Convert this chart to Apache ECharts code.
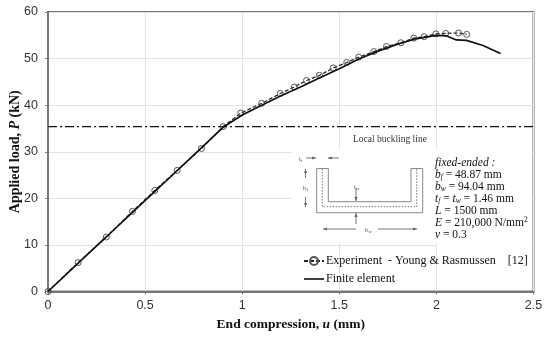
<!DOCTYPE html>
<html><head><meta charset="utf-8">
<style>html,body{margin:0;padding:0;background:#fff}#c{width:550px;height:337px}</style>
<script src="https://cdn.jsdelivr.net/npm/echarts@6/dist/echarts.min.js"></script>
</head><body><div id="c"></div>
<script>
const experimentU=[0,0.155,0.3,0.435,0.55,0.665,0.79,0.902,0.993,1.10,1.196,1.268,1.331,1.398,1.469,1.538,1.60,1.678,1.743,1.817,1.884,1.937,1.997,2.048,2.114,2.156];
const experimentP=[0,6.2,11.7,17.2,21.7,26,30.7,35.4,38.3,40.4,42.5,43.9,45.3,46.4,48,49.15,50.3,51.5,52.6,53.4,54.4,54.7,55.3,55.4,55.5,55.2];
const feU=[0,0.15,0.3,0.45,0.6,0.75,0.9,1.0,1.1,1.2,1.3,1.4,1.5,1.6,1.7,1.8,1.9,2.0,2.05,2.103,2.155,2.24,2.33];
const feP=[0,5.9,11.7,17.6,23.4,29.3,35.2,37.9,40,42,43.9,45.9,47.8,49.9,51.6,53.1,54.3,55,54.9,54,53.9,52.8,51.1];
const bucklingU=[0,2.5];
const bucklingP=[35.4,35.4];
const seriesNames=["Experiment  - Young & Rasmussen    [12]","Finite element"];
const xRange=[0,2.5], yRange=[0,60];
const zip=(a,b)=>a.map((v,i)=>[v,b[i]]);
const serif='"Liberation Serif"', sans='"Liberation Sans"';
const G='#777';
function ln(x1,y1,x2,y2,extra){return {type:'line',shape:{x1,y1,x2,y2},style:Object.assign({stroke:G,lineWidth:1},extra||{}),z:20};}
function tri(p){return {type:'polygon',shape:{points:p},style:{fill:'#666'},z:20};}
function hArrow(x1,x2,y){const d=x2>x1?1:-1;return [ln(x1,y,x2,y),tri([[x2,y],[x2-4*d,y-1.6],[x2-4*d,y+1.6]])];}
function vArrow(x,y1,y2){const d=y2>y1?1:-1;return [ln(x,y1,x,y2),tri([[x,y2],[x-1.6,y2-4*d],[x+1.6,y2-4*d]])];}
function small(x,y,base,sub){return {type:'text',x,y,z:21,style:{text:`{a|${base}}{s|${sub}}`,rich:{a:{fontFamily:serif,fontSize:7,fill:'#555'},s:{fontFamily:serif,fontSize:5,fill:'#555',padding:[3,0,0,0]}}}};}
const richBase={n:{fontFamily:serif,fontSize:11.5,fill:'#111'},i:{fontFamily:serif,fontStyle:'italic',fontSize:11.5,fill:'#111'},s:{fontFamily:serif,fontSize:7.5,fill:'#111',padding:[5,0,0,0]},si:{fontFamily:serif,fontStyle:'italic',fontSize:7.5,fill:'#111',padding:[5,0,0,0]},u:{fontFamily:serif,fontSize:7.5,fill:'#111',padding:[0,0,5,0]}};
function info(y,t){return {type:'text',x:435,y,z:21,style:{text:t,rich:richBase,verticalAlign:'middle'}};}
const graphic=[
 {type:'rect',shape:{x:292,y:149,width:145,height:94},style:{fill:'#fff'},z:10},
 {type:'rect',shape:{x:437,y:149,width:95,height:103},style:{fill:'#fff'},z:10},
 {type:'polyline',shape:{points:[[316.7,168.5],[316.7,212.7],[422.7,212.7],[422.7,168.5],[411,168.5],[411,201.7],[328.3,201.7],[328.3,168.5],[316.7,168.5]]},style:{stroke:'#888',fill:'none',lineWidth:1},z:20},
 {type:'polyline',shape:{points:[[322.3,169],[322.3,206.7],[416.7,206.7],[416.7,169]]},style:{stroke:'#777',fill:'none',lineWidth:1,lineDash:[1.5,1.5]},z:20},
 ...hArrow(306,316,158),...hArrow(339,328,158),
 ...vArrow(305.5,178,169),...vArrow(305.5,197,207),
 ...vArrow(356,188,201),...vArrow(356,224,213),
 ...hArrow(356,323,229),...hArrow(378,417,229),
 small(299,155,'t','f'),small(303,184,'b','f'),small(354,183,'t','w'),small(365,226,'b','w'),
 info(163,'{i|fixed-ended :}'),
 info(175,'{i|b}{si|f}{n| = 48.87 mm}'),
 info(187,'{i|b}{si|w}{n| = 94.04 mm}'),
 info(199,'{i|t}{si|f}{n| = }{i|t}{si|w}{n| = 1.46 mm}'),
 info(211,'{i|L}{n| = 1500 mm}'),
 info(223,'{i|E}{n| = 210,000 N/mm}{u|2}'),
 info(235,'{i|v}{n| = 0.3}'),
 {type:'text',x:353,y:134.5,z:21,style:{text:'Local buckling line',fontFamily:serif,fontSize:9.5,fill:'#333'}}
];
const nameRich={b:{fontFamily:serif,fontWeight:'bold',fontSize:13.5,color:'#111'},bi:{fontFamily:serif,fontWeight:'bold',fontStyle:'italic',fontSize:13.5,color:'#111'}};
const nameRichY={b:Object.assign({},nameRich.b,{fontSize:14}),bi:Object.assign({},nameRich.bi,{fontSize:14})};
const chart=echarts.init(document.getElementById('c'),null,{renderer:'canvas'});
chart.setOption({
 animation:false,backgroundColor:'#fff',
 grid:{left:48,right:16.5,top:12,bottom:45.5,show:true,borderColor:G,borderWidth:2,backgroundColor:'transparent',outerBoundsMode:'none',containLabel:false},
 xAxis:{type:'value',min:xRange[0],max:xRange[1],interval:0.5,
  axisLine:{lineStyle:{color:G,width:2}},axisTick:{length:3,lineStyle:{color:G}},
  axisLabel:{fontFamily:sans,fontSize:12.5,color:'#333',margin:8,formatter:v=>String(v)},
  splitLine:{show:true,lineStyle:{color:'#e2e2e2',width:1}},
  name:'{b|End compression, }{bi|u}{b| (mm)}',nameLocation:'middle',nameGap:26,nameMoveOverlap:false,
  nameTextStyle:{rich:nameRich}},
 yAxis:{type:'value',min:yRange[0],max:yRange[1],interval:10,
  axisLine:{lineStyle:{color:G,width:2}},axisTick:{length:3,lineStyle:{color:G}},
  axisLabel:{fontFamily:sans,fontSize:12.5,color:'#333',margin:10},
  splitLine:{show:true,lineStyle:{color:'#e2e2e2',width:1}},
  name:'{b|Applied load, }{bi|P}{b| (kN)}',nameLocation:'middle',nameGap:26,nameMoveOverlap:false,
  nameTextStyle:{rich:nameRichY}},
 legend:{orient:'vertical',left:298,top:250,itemGap:6,itemWidth:20,itemHeight:10,
  data:[{name:seriesNames[0]},{name:seriesNames[1],icon:'path://M0 4.2H20V5.8H0Z',itemStyle:{color:'#111',borderWidth:0}}],
  textStyle:{fontFamily:serif,fontSize:12,color:'#111',padding:[0,0,0,-3]},backgroundColor:'transparent'},
 series:[
  {name:seriesNames[0],type:'line',data:zip(experimentU,experimentP),symbol:'circle',symbolSize:6,showSymbol:true,z:5,
   lineStyle:{color:'#222',width:1.2,type:[4,2]},itemStyle:{color:'rgba(255,255,255,0)',borderColor:'#555',borderWidth:1}},
  {name:seriesNames[1],type:'line',data:zip(feU,feP),symbol:'none',z:6,
   lineStyle:{color:'#111',width:1.7},itemStyle:{color:'#111'}},
  {name:'Local buckling line',type:'line',data:zip(bucklingU,bucklingP),symbol:'none',z:4,
   lineStyle:{color:'#111',width:1.3,type:[9,3,2,3]}}
 ],
 graphic
});
</script></body></html>
